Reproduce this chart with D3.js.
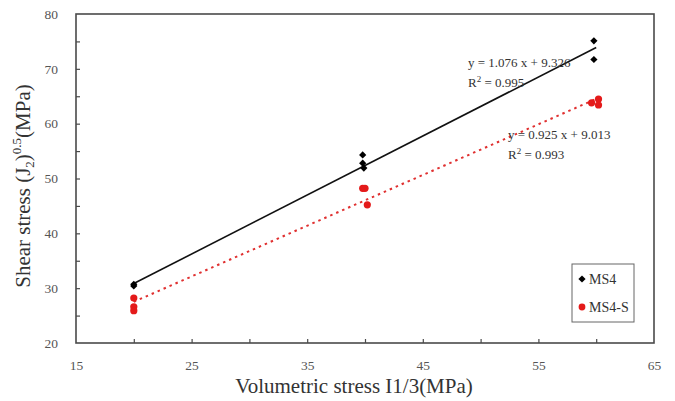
<!DOCTYPE html>
<html><head><meta charset="utf-8">
<script src="https://cdn.jsdelivr.net/npm/d3@7"></script>
<style>body{margin:0;background:#fff}svg{display:block}svg text{font-family:"Liberation Serif","Times New Roman","DejaVu Serif",serif !important}</style>
</head><body><svg id="c" width="675" height="401"></svg>
<script>
const ms4X = [20, 20, 39.8, 39.8, 39.9, 59.8, 59.8];
const ms4Y = [30.4, 30.7, 54.3, 52.8, 51.9, 75.1, 71.7];
const ms4sX = [20, 20, 20, 39.8, 40.0, 40.2, 59.6, 60.2, 60.2];
const ms4sY = [28.2, 26.6, 25.9, 48.2, 48.2, 45.2, 63.8, 64.5, 63.4];
const fitMS4 = {slope: 1.076, intercept: 9.326, r2: "0.995", x0: 20, x1: 60};
const fitMS4S = {slope: 0.925, intercept: 9.013, r2: "0.993", x0: 20, x1: 60};
const xTickLabels = [15, 25, 35, 45, 55, 65];
const xTicks = [20, 25, 30, 35, 40, 45, 50, 55, 60];
const yTickLabels = [20, 30, 40, 50, 60, 70, 80];
const yTicks = [25, 30, 35, 40, 45, 50, 55, 60, 65, 70, 75];
const seriesNames = ["MS4", "MS4-S"];

const svg = d3.select("#c");
const L = 76, R = 654, T = 14, B = 343;
const x = d3.scaleLinear().domain([15, 65]).range([L, R]);
const y = d3.scaleLinear().domain([20, 80]).range([B, T]);
const axisCol = "#4a4a4a", labCol = "#555";

svg.append("rect").attr("x", L).attr("y", T).attr("width", R - L).attr("height", B - T)
  .attr("fill", "none").attr("stroke", axisCol).attr("stroke-width", 1.6);

const xa = svg.append("g").attr("transform", `translate(0,${B})`)
  .call(d3.axisBottom(x).tickValues(xTicks).tickSizeInner(-4).tickSizeOuter(0).tickFormat(""));
xa.select(".domain").remove();
xa.selectAll("line").attr("stroke", axisCol).attr("stroke-width", 1.2);
const xl = svg.append("g").attr("transform", `translate(0,${B})`)
  .call(d3.axisBottom(x).tickValues(xTickLabels).tickSize(0).tickPadding(17));
xl.select(".domain").remove();
xl.selectAll("text").attr("font-size", 13.5).attr("fill", labCol);

const ya = svg.append("g").attr("transform", `translate(${L},0)`)
  .call(d3.axisLeft(y).tickValues(yTicks).tickSizeInner(-4).tickSizeOuter(0).tickFormat(""));
ya.select(".domain").remove();
ya.selectAll("line").attr("stroke", axisCol).attr("stroke-width", 1.2);
const yl = svg.append("g").attr("transform", `translate(${L},0)`)
  .call(d3.axisLeft(y).tickValues(yTickLabels).tickSize(0).tickPadding(18));
yl.select(".domain").remove();
yl.selectAll("text").attr("font-size", 13.5).attr("fill", labCol);

const line = d3.line().x(d => x(d[0])).y(d => y(d[1]));
function fitPts(f) { return [[f.x0, f.slope * f.x0 + f.intercept], [f.x1, f.slope * f.x1 + f.intercept]]; }
svg.append("path").attr("d", line(fitPts(fitMS4))).attr("stroke", "#111").attr("stroke-width", 1.6).attr("fill", "none");
svg.append("path").attr("d", line(fitPts(fitMS4S))).attr("stroke", "#e03030").attr("stroke-width", 2)
  .attr("stroke-dasharray", "2.5,4").attr("fill", "none");

const diamond = d3.symbol().type(d3.symbolSquare).size(26);
svg.append("g").selectAll("path").data(ms4X.map((v, i) => [v, ms4Y[i]])).join("path")
  .attr("d", diamond).attr("transform", d => `translate(${x(d[0])},${y(d[1])}) rotate(45)`).attr("fill", "#000");
svg.append("g").selectAll("circle").data(ms4sX.map((v, i) => [v, ms4sY[i]])).join("circle")
  .attr("cx", d => x(d[0])).attr("cy", d => y(d[1])).attr("r", 3.6).attr("fill", "#e41a1a");

function eq(f, px, py) {
  const g = svg.append("g").attr("font-size", 13).attr("fill", "#333");
  g.append("text").attr("x", px).attr("y", py).text(`y = ${f.slope.toFixed(3)} x + ${f.intercept.toFixed(3)}`);
  const t = g.append("text").attr("x", px).attr("y", py + 20);
  t.append("tspan").text("R");
  t.append("tspan").attr("dy", -5).attr("font-size", 9).text("2");
  t.append("tspan").attr("dy", 5).text(" = " + f.r2);
}
eq(fitMS4, 468, 67);
eq(fitMS4S, 508, 139);

const lg = svg.append("g");
lg.append("rect").attr("x", 572).attr("y", 264).attr("width", 62).attr("height", 58)
  .attr("fill", "#fff").attr("stroke", "#666").attr("stroke-width", 1);
lg.append("path").attr("d", diamond).attr("transform", "translate(582,279) rotate(45)").attr("fill", "#000");
lg.append("circle").attr("cx", 582).attr("cy", 307).attr("r", 3.4).attr("fill", "#e41a1a");
lg.append("text").attr("x", 589).attr("y", 283.5).attr("font-size", 14).attr("fill", "#333").text(seriesNames[0]);
lg.append("text").attr("x", 589).attr("y", 311.5).attr("font-size", 14).attr("fill", "#333").text(seriesNames[1]);

svg.append("text").attr("x", 354).attr("y", 393).attr("text-anchor", "middle")
  .attr("font-size", 21).attr("fill", "#333").text("Volumetric stress I1/3(MPa)");
const yt = svg.append("text").attr("transform", "translate(30,186) rotate(-90)")
  .attr("text-anchor", "middle").attr("font-size", 21).attr("fill", "#333");
yt.append("tspan").text("Shear stress (J");
yt.append("tspan").attr("font-size", 13).attr("dy", 4).text("2");
yt.append("tspan").attr("dy", -4).text(")");
yt.append("tspan").attr("font-size", 13).attr("dy", -9).text("0.5");
yt.append("tspan").attr("dy", 9).text("(MPa)");
</script></body></html>
